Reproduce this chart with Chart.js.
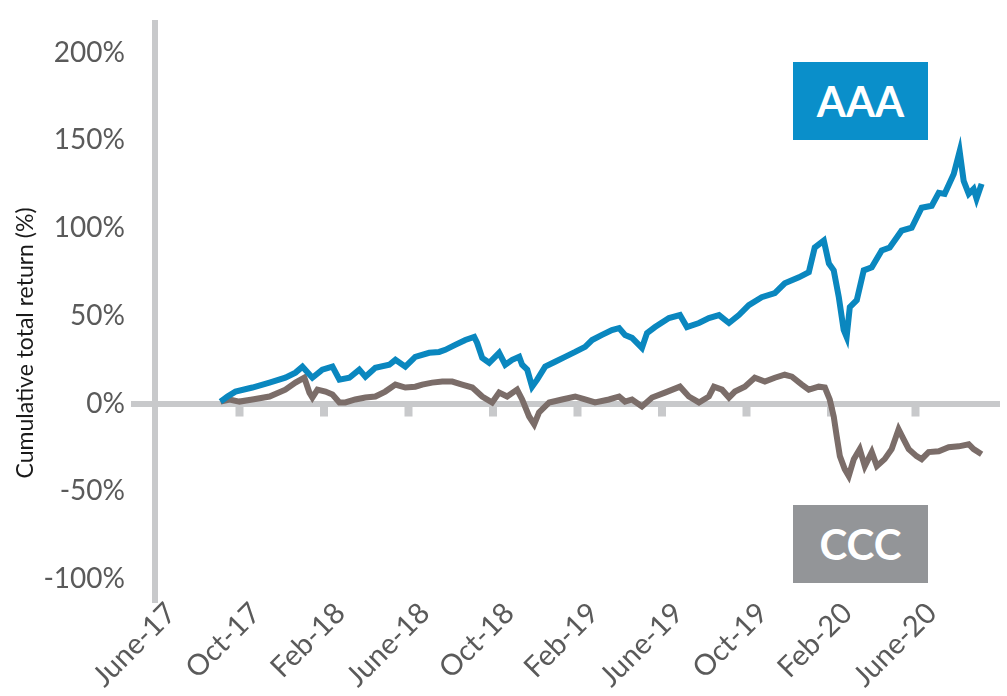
<!DOCTYPE html>
<html>
<head>
<meta charset="utf-8">
<script src="https://cdn.jsdelivr.net/npm/chart.js@4.4.0/dist/chart.umd.min.js"></script>
<style>
    html, body { margin: 0; padding: 0; background: #ffffff; }
    #wrap { position: relative; width: 1007px; height: 696px; }
    .tag {
        position: absolute;
        width: 135px;
        height: 78px;
        color: #ffffff;
        font-family: Lato, "Open Sans", sans-serif;
        font-weight: 700;
        font-size: 42px;
        line-height: 78px;
        text-align: center;
    }
</style>
</head>
<body>
<div id="wrap">
    <canvas id="returnChart" width="1007" height="696"></canvas>
    <div class="tag" style="left:793px; top:62px; background:#0a8fca;">AAA</div>
    <div class="tag" style="left:793px; top:505px; background:#939598;">CCC</div>
</div>
<script>
// x values are months since June 2017
const tickLabels = ['June-17', 'Oct-17', 'Feb-18', 'June-18', 'Oct-18', 'Feb-19', 'June-19', 'Oct-19', 'Feb-20', 'June-20'];
const yTicks = [-100, -50, 0, 50, 100, 150, 200];

const aaaMonths = [3.10, 3.43, 3.81, 4.61, 5.42, 6.17, 6.65, 6.98, 7.45, 7.92, 8.40, 8.73, 9.20, 9.67, 9.96,
    10.43, 11.09, 11.38, 11.85, 12.32, 12.98, 13.45, 13.74, 14.21, 14.69, 15.11, 15.25, 15.49, 15.82,
    16.29, 16.58, 16.91, 17.24, 17.38, 17.62, 17.85, 18.09, 18.47, 18.94, 19.41, 19.89, 20.36, 20.69,
    21.16, 21.63, 21.97, 22.25, 22.58, 23.05, 23.29, 23.67, 24.33, 24.85, 25.18, 25.75, 26.22, 26.70,
    27.17, 27.64, 28.11, 28.72, 29.34, 29.81, 30.48, 30.95, 31.23, 31.66, 31.90, 32.13, 32.37, 32.60,
    32.74, 32.89, 33.22, 33.55, 33.93, 34.40, 34.78, 35.34, 35.82, 36.29, 36.77, 37.10, 37.38, 37.81,
    38.09, 38.28, 38.52, 38.75, 38.89, 39.13];
const aaaValues = [1.1, 4.0, 6.8, 9.1, 11.9, 14.7, 17.6, 21.0, 14.7, 19.3, 21.0, 13.6, 14.7, 19.3, 15.3,
    20.4, 22.1, 24.9, 21.0, 26.6, 28.9, 29.4, 30.6, 33.4, 36.2, 37.9, 34.5, 26.0, 23.2,
    28.9, 22.1, 24.9, 26.6, 22.1, 19.3, 9.6, 13.6, 21.0, 23.8, 26.6, 29.4, 32.3, 36.2,
    39.1, 41.9, 43.0, 39.1, 37.4, 31.7, 40.2, 43.6, 48.7, 50.4, 43.6, 45.9, 48.7, 50.4,
    45.9, 50.4, 56.1, 60.6, 62.9, 68.5, 71.9, 74.8, 88.9, 92.9, 79.8, 75.9, 60.6, 41.9,
    37.9, 54.9, 58.9, 75.9, 77.6, 87.2, 88.9, 98.5, 100.2, 111.6, 112.7, 120.1, 119.5, 130.8,
    143.8, 126.9, 119.5, 122.3, 116.7, 125.2];

const cccMonths = [3.10, 3.53, 4.00, 4.61, 5.42, 6.17, 6.65, 7.07, 7.31, 7.45, 7.69, 8.07, 8.40, 8.73, 9.01,
    9.48, 9.96, 10.43, 10.90, 11.38, 11.85, 12.32, 12.65, 13.12, 13.60, 14.07, 14.54, 15.02, 15.49,
    15.96, 16.29, 16.67, 17.14, 17.38, 17.71, 17.95, 18.18, 18.66, 19.27, 19.89, 20.36, 20.83, 21.49,
    21.97, 22.25, 22.58, 23.05, 23.53, 24.14, 24.85, 25.27, 25.75, 26.22, 26.46, 26.84, 27.17, 27.45,
    27.92, 28.39, 28.87, 29.34, 29.81, 30.15, 30.62, 30.95, 31.42, 31.71, 31.94, 32.13, 32.27, 32.42,
    32.65, 32.84, 33.08, 33.36, 33.60, 33.93, 34.17, 34.54, 34.87, 35.20, 35.44, 35.68, 36.05, 36.29,
    36.62, 37.10, 37.57, 38.05, 38.52, 38.75, 39.13];
const cccValues = [1.1, 2.3, 1.1, 2.3, 4.0, 7.9, 11.9, 14.7, 6.2, 3.4, 7.9, 6.8, 5.1, 0.6, 0.6,
    2.3, 3.4, 4.0, 6.8, 10.8, 9.1, 9.6, 10.8, 11.9, 12.5, 12.5, 10.8, 9.1, 4.0,
    0.6, 6.2, 4.0, 7.9, 2.3, -7.4, -11.9, -5.1, 0.6, 2.3, 4.0, 2.3, 0.6, 2.3,
    4.0, 1.1, 2.3, -1.7, 3.4, 6.2, 9.6, 4.0, 0.6, 4.0, 9.6, 7.9, 3.4, 6.8,
    9.6, 14.7, 12.5, 14.7, 16.4, 15.3, 10.8, 7.9, 9.6, 9.1, 2.3, -7.4, -18.7, -30.0,
    -37.4, -41.3, -31.7, -26.0, -35.7, -27.7, -35.7, -31.7, -26.0, -14.7, -20.4, -26.0, -30.0, -31.7,
    -27.7, -27.2, -24.9, -24.4, -23.2, -26.0, -28.9];

const axisGrey = '#c8c9cb';
const labelGrey = '#5a5a5a';
const fontFamily = 'Lato, "Open Sans", sans-serif';

function toPoints(xs, ys) {
    return xs.map((x, i) => ({ x: x, y: ys[i] }));
}

// small downward tick marks hanging from the zero line
const zeroTicks = {
    id: 'zeroTicks',
    beforeDatasetsDraw(chart) {
        const xs = chart.scales.x;
        const y0 = chart.scales.y.getPixelForValue(0);
        const c = chart.ctx;
        c.save();
        c.fillStyle = axisGrey;
        for (let i = 1; i < tickLabels.length; i++) {
            const px = xs.getPixelForValue(i * 4);
            c.fillRect(px - 4, y0, 8, 13);
        }
        c.restore();
    }
};

// rotated date labels under the plot and the y axis title
const axisText = {
    id: 'axisText',
    afterDraw(chart) {
        const c = chart.ctx;
        const xs = chart.scales.x;
        c.save();
        c.font = '29px ' + fontFamily;
        c.fillStyle = labelGrey;
        c.textAlign = 'right';
        c.textBaseline = 'top';
        tickLabels.forEach((label, i) => {
            const px = xs.getPixelForValue(i * 4);
            c.save();
            c.translate(px + 6, xs.top - 2);
            c.rotate(-Math.PI / 4);
            c.fillText(label, 0, 0);
            c.restore();
        });
        c.restore();

        c.save();
        c.translate(26, 343);
        c.rotate(-Math.PI / 2);
        c.font = '23px ' + fontFamily;
        c.fillStyle = '#1a1a1a';
        c.textAlign = 'center';
        c.textBaseline = 'middle';
        c.fillText('Cumulative total return (%)', 0, 0);
        c.restore();
    }
};

new Chart(document.getElementById('returnChart'), {
    type: 'line',
    data: {
        datasets: [{
            label: 'AAA',
            data: toPoints(aaaMonths, aaaValues),
            borderColor: '#0a87bf',
            borderWidth: 6,
            pointRadius: 0,
            tension: 0
        }, {
            label: 'CCC',
            data: toPoints(cccMonths, cccValues),
            borderColor: '#7b6d69',
            borderWidth: 6,
            pointRadius: 0,
            tension: 0
        }]
    },
    options: {
        responsive: false,
        animation: false,
        layout: { padding: { top: 0, right: 7, left: 0, bottom: 0 } },
        plugins: {
            legend: { display: false },
            tooltip: { enabled: false }
        },
        scales: {
            x: {
                type: 'linear',
                min: 0,
                max: 40,
                afterBuildTicks: scale => {
                    scale.ticks = tickLabels.map((l, i) => ({ value: i * 4 }));
                },
                afterFit: scale => { scale.height = 96; },
                grid: { display: false },
                border: { display: false },
                ticks: { display: false }
            },
            y: {
                min: -112,
                max: 217,
                afterBuildTicks: scale => {
                    scale.ticks = yTicks.map(v => ({ value: v }));
                },
                afterFit: scale => { scale.width = 155; },
                border: { color: axisGrey, width: 6 },
                grid: {
                    color: ctx => (ctx.tick && ctx.tick.value === 0 ? axisGrey : 'rgba(0,0,0,0)'),
                    lineWidth: 6,
                    tickLength: 24,
                    drawTicks: true
                },
                ticks: {
                    color: labelGrey,
                    font: { size: 28, family: fontFamily },
                    padding: 6,
                    callback: value => value + '%'
                }
            }
        }
    },
    plugins: [zeroTicks, axisText]
});
</script>
</body>
</html>
